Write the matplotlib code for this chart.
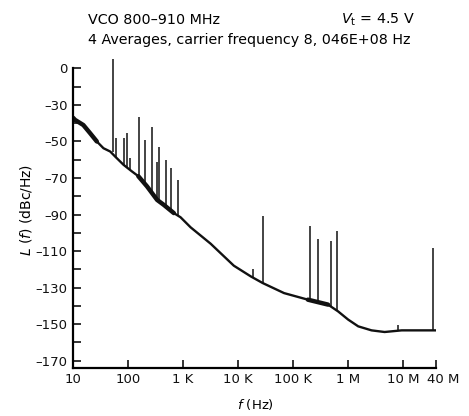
import numpy as np
import matplotlib.pyplot as plt
import matplotlib.transforms as mtransforms

plt.rcParams['font.family'] = ['DejaVu Sans']
plt.rcParams['mathtext.fontset'] = 'custom'
plt.rcParams['mathtext.rm'] = 'DejaVu Sans'
plt.rcParams['mathtext.it'] = 'DejaVu Sans:italic'

# phase noise floor (Hz, dBc/Hz on the drawn grid)
freq = [10, 10.9, 15.4, 20.5, 27.1, 35.8, 47.5, 58.6, 83.1, 118, 154, 222, 339, 448,
        682, 904, 1377, 2099, 3196, 4236, 8414, 17.2e3, 28.2e3, 69e3, 187e3, 435e3,
        662e3, 1.01e6, 1.54e6, 2.69e6, 4.65e6, 9.5e6, 38e6, 40e6]
noise = [-37, -38.2, -41, -45.5, -50, -53.7, -55.5, -58.3, -62.8, -66.4, -69, -74.6,
         -82, -84.7, -89.2, -91.5, -97, -101.5, -106, -109.5, -118, -123.9, -127.5,
         -133, -136.6, -139.3, -143, -147.5, -151.2, -153.4, -154.3, -153.4, -153.4, -153.4]

# discrete spurs: frequency, peak, foot
spur_f = [52.7, 61, 83.8, 97, 108, 161, 207, 275, 336, 373, 501, 606, 820,
          18.5e3, 28.2e3, 206e3, 285e3, 485e3, 632e3, 8e6, 36e6]
spur_top = [-5, -48, -48, -45.5, -59, -36.4, -49, -42, -61, -52.8, -60, -64.6, -71,
            -120, -90.7, -96.5, -103.4, -104.7, -99.2, -150.5, -108.3]
spur_base = [-56, -59, -63, -64, -65, -70, -73.5, -77.5, -81, -82.5, -85.5, -87.5, -90.5,
             -124.5, -127.5, -137, -137.8, -140, -142.5, -153.4, -153.4]

xticks = [10, 100, 1e3, 1e4, 1e5, 1e6, 1e7, 4e7]
xlabels = ['10', '100', '1 K', '10 K', '100 K', '1 M', '10 M', '40 M']
yticks = list(range(-170, -9, 10))
ylabels = {-10: '0', -30: '\u201330', -50: '\u201350', -70: '\u201370', -90: '\u201390',
           -110: '\u2013110', -130: '\u2013130', -150: '\u2013150', -170: '\u2013170'}

fig = plt.figure(figsize=(4.69, 4.16), dpi=100)
ax = fig.add_axes([0.1557, 0.1154, 0.7739, 0.7553])

f = np.array(freq)
n = np.array(noise)
ax.plot(f, n, color='#111111', lw=1.7, solid_joinstyle='round')
thick = (f <= 30) | ((f >= 150) & (f <= 700)) | ((f >= 180e3) & (f <= 600e3))
ax.plot(np.where(thick, f, np.nan), n, color='#111111', lw=3.2, solid_capstyle='round')
ax.vlines(spur_f, spur_base, spur_top, color='#111111', lw=1.1)

ax.set_xscale('log')
ax.set_xlim(10, 4e7)
ax.set_ylim(-174, -2)
ax.set_xticks(xticks)
ax.set_xticklabels(xlabels)
ax.xaxis.set_minor_locator(plt.NullLocator())
ax.set_yticks(yticks)
ax.set_yticklabels([ylabels.get(t, '') for t in yticks])
ax.tick_params(direction='in', length=6, width=1.2, labelsize=9.5, colors='#111111')
ax.tick_params(axis='y', pad=4)
ax.tick_params(axis='x', pad=3.5)
# last label sits a little right of its tick
last = ax.get_xticklabels()[-1]
last.set_transform(last.get_transform() + mtransforms.ScaledTranslation(0.07, 0, fig.dpi_scale_trans))
for s in ['top', 'right']:
    ax.spines[s].set_visible(False)
ax.spines['left'].set_bounds(-174, -10)
ax.spines['left'].set_linewidth(1.6)
ax.spines['bottom'].set_linewidth(1.6)

fig.text(0.545, 0.027, r'$f$ (Hz)', ha='center', va='center', fontsize=9.5)
fig.text(0.055, 0.495, r'$L$ ($f$) (dBc/Hz)', ha='center', va='center',
         rotation=90, fontsize=10)
fig.text(0.188, 0.952, 'VCO 800\u2013910 MHz', ha='left', va='center', fontsize=10.3)
fig.text(0.885, 0.952, r'$V_{\mathrm{t}}$ = 4.5 V', ha='right', va='center', fontsize=10.3)
fig.text(0.188, 0.905, '4 Averages, carrier frequency 8, 046E+08 Hz',
         ha='left', va='center', fontsize=10.3)

fig.savefig('out.png', dpi=100)
